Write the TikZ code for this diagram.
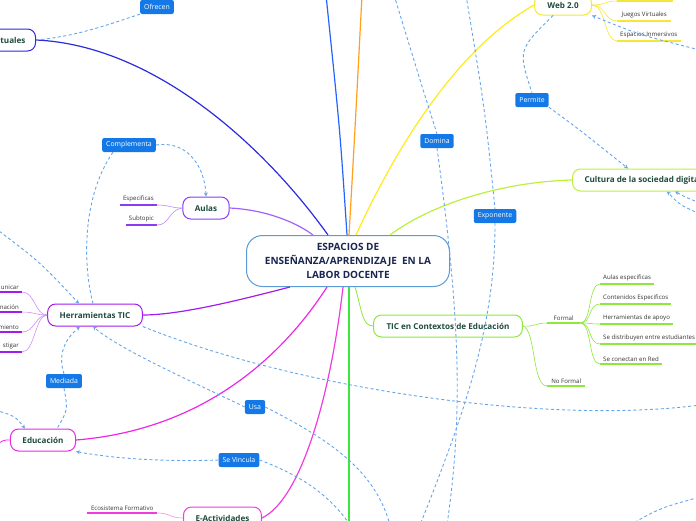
\documentclass[tikz,border=0pt]{standalone}
\usepackage{fontspec}
\setmainfont{Open Sans}
\usetikzlibrary{arrows.meta,positioning}

\definecolor{linkblue}{HTML}{64A5EB}
\definecolor{lblue}{HTML}{1479E6}
\definecolor{nodegreen}{HTML}{1E4B3C}
\definecolor{centertext}{HTML}{1A2550}
\definecolor{centerborder}{HTML}{5A9BD5}
\definecolor{virtblue}{HTML}{2B2BE0}
\definecolor{topblue}{HTML}{2563FF}
\definecolor{branchorange}{HTML}{FF9F1C}
\definecolor{webyellow}{HTML}{F5E63A}
\definecolor{lineyellow}{HTML}{FFEB1A}
\definecolor{cultgreen}{HTML}{BDF03C}
\definecolor{ticgreen}{HTML}{8CE83C}
\definecolor{stemgreen}{HTML}{3CE63C}
\definecolor{edumag}{HTML}{EC28E6}
\definecolor{eactmag}{HTML}{F03CDC}
\definecolor{herrpurple}{HTML}{A21DEB}
\definecolor{aulaspurple}{HTML}{8A3CF5}
\definecolor{subgray}{HTML}{333333}

\begin{document}
\begin{tikzpicture}[x=1pt, y=-1pt,
    central/.style={draw=centerborder, line width=1pt, rounded corners=16pt, fill=white,
      minimum width=203pt, minimum height=51pt, align=center, text=centertext,
      font=\fontsize{10}{14}\selectfont\bfseries},
    topic/.style={draw, line width=1pt, rounded corners=8pt, fill=white, text=nodegreen,
      minimum height=22pt, inner xsep=12pt, font=\fontsize{8.1}{9.5}\selectfont\bfseries},
    lbl/.style={fill=lblue, text=white, rounded corners=2pt, minimum height=14pt,
      inner xsep=4pt, font=\fontsize{6.9}{8}\selectfont},
    subitem/.style={text=subgray, inner xsep=3pt, inner ysep=2.5pt,
      font=\fontsize{6.1}{7}\selectfont},
    ul/.style={draw=#1, line width=1.6pt},
    br/.style={draw=#1, line width=0.6pt},
    stem/.style={draw=#1, line width=1.2pt},
    link/.style={draw=linkblue, dash pattern=on 3pt off 2.5pt, line width=0.9pt,
      -{Stealth[length=4pt,width=4pt]}}
  ]
  \useasboundingbox (0,0) rectangle (696,520);

  % central topic
  \node[central] (center) at (348,261)
    {ESPACIOS DE\\ENSEÑANZA/APRENDIZAJE\ \ EN LA\\LABOR DOCENTE};

  % main topics
  \node[topic, draw=virtblue, anchor=east, inner xsep=10pt, text width=44pt, align=right] (virt) at (36,40) {tuales};
  \node[topic, draw=webyellow, minimum width=57pt, minimum height=20pt, inner xsep=6pt] (web) at (563,5) {Web 2.0};
  \node[topic, draw=cultgreen, anchor=west] (cult) at (572,180) {Cultura de la sociedad digital};
  \node[topic, draw=ticgreen, anchor=west, inner xsep=13pt] (tic) at (373,326) {TIC en Contextos de Educación};
  \node[topic, draw=aulaspurple] (aulas) at (206,208) {Aulas};
  \node[topic, draw=herrpurple] (herr) at (95,315) {Herramientas TIC};
  \node[topic, draw=edumag] (edu) at (43,440) {Educación};
  \node[topic, draw=eactmag, anchor=west] (eact) at (183,518) {E-Actividades};

  % relation labels
  \node[lbl] (ofrecen) at (157,7) {Ofrecen};
  \node[lbl] (compl) at (129,145) {Complementa};
  \node[lbl] (domina) at (437,141) {Domina};
  \node[lbl] (permite) at (532,100) {Permite};
  \node[lbl] (expo) at (495,216) {Exponente};
  \node[lbl] (mediada) at (64,381) {Mediada};
  \node[lbl] (usa) at (255,407) {Usa};
  \node[lbl] (vinc) at (239,460) {Se Vincula};

  % branches from the centre
  \draw[stem=virtblue] ([xshift=-20pt]center.north) .. controls (260,140) and (150,45) .. (virt.east);
  \draw[stem=topblue] ([xshift=-1pt]center.north) .. controls (340,130) .. (326,-5);
  \draw[stem=branchorange] ([xshift=1pt]center.north) .. controls (355,130) .. (362,-5);
  \draw[stem=lineyellow] ([xshift=8pt]center.north) .. controls (395,150) and (455,50) .. (web.west);
  \draw[stem=cultgreen] ([xshift=42pt]center.north) .. controls (430,205) and (500,182) .. (cult.west);
  \draw[stem=aulaspurple!80] ([xshift=-35pt]center.north) .. controls (300,225) and (270,210) .. (aulas.east);
  \draw[stem=herrpurple] ([xshift=-58pt]center.south) .. controls (240,300) and (180,315) .. (herr.east);
  \draw[stem=edumag] ([xshift=-21pt]center.south) .. controls (280,360) and (200,430) .. (edu.east);
  \draw[stem=eactmag] ([xshift=-5pt]center.south) .. controls (330,400) and (300,500) .. (eact.east);
  \draw[stem=stemgreen] ([xshift=1pt]center.south) -- (349,525);
  \draw[stem=ticgreen, line width=0.8pt] ([xshift=7pt]center.south) .. controls (362,310) and (362,326) .. (tic.west);

  % Web 2.0 subtopics
  \coordinate (wtopa) at (617,1);
  \coordinate (wtopb) at (673,1);
  \draw[ul=webyellow] (wtopa) -- (wtopb);
  \draw[br=webyellow] (web.east) .. controls (605,5) and (605,1) .. (wtopa);
  \foreach \nm/\yy/\txt in {wjue/21/Juegos Virtuales, wesp/41/Espacios Inmersivos} {
    \node[subitem, anchor=south west, minimum width=54pt] (\nm) at (617,\yy) {\txt};
    \draw[ul=webyellow] (\nm.south west) -- (\nm.south east);
    \draw[br=webyellow] (web.east) .. controls (606,5) and (604,\yy) .. (\nm.south west);
  }

  % TIC en Contextos subtopics
  \node[subitem, anchor=south west, minimum width=33pt] (formal) at (547,323) {Formal};
  \node[subitem, anchor=south west, minimum width=38pt] (noformal) at (547,386) {No Formal};
  \draw[ul=ticgreen] (formal.south west) -- (formal.south east);
  \draw[ul=ticgreen] (noformal.south west) -- (noformal.south east);
  \draw[br=ticgreen] (tic.east) .. controls (535,327) and (535,323) .. (formal.south west);
  \draw[br=ticgreen] (tic.east) .. controls (536,330) and (532,386) .. (noformal.south west);
  \foreach \nm/\yy/\txt in {fa/284/Aulas especificas, fb/304/Contenidos Especificos,
      fc/324/Herramientas de apoyo, fd/344/Se distribuyen entre estudiantes,
      fe/364/Se conectan en Red} {
    \node[subitem, anchor=south west] (\nm) at (600,\yy) {\txt};
    \draw[ul=ticgreen] (\nm.south west) -- (\nm.south east);
    \draw[br=ticgreen] (formal.south east) .. controls (592,323) and (588,\yy) .. (\nm.south west);
  }

  % Aulas subtopics
  \node[subitem, anchor=south east] (aesp) at (157,205) {Especificas};
  \node[subitem, anchor=south east] (asub) at (157,225) {Subtopic};
  \foreach \nm in {aesp,asub} {
    \draw[ul=aulaspurple] (\nm.south west) -- (\nm.south east);
  }
  \draw[br=aulaspurple!60] (aulas.west) .. controls (170,208) and (170,205) .. (aesp.south east);
  \draw[br=aulaspurple!60] (aulas.west) .. controls (168,210) and (170,225) .. (asub.south east);

  % Herramientas TIC subtopics
  \foreach \nm/\yy/\txt in {ha/292/unicar, hb/312/nación, hc/332/miento, hd/352/stigar} {
    \node[subitem, anchor=south east] (\nm) at (22,\yy) {\txt};
    \draw[ul=herrpurple] (\nm.south west) -- (\nm.south east);
    \draw[br=herrpurple!50] (herr.west) .. controls (35,315) and (35,\yy) .. (\nm.south east);
  }

  % Educacion and E-Actividades subtopics
  \coordinate (eduleft) at (-5,446);
  \draw[stem=edumag, line width=0.8pt] (edu.west) .. controls (3,440) .. (eduleft);
  \node[subitem, anchor=south west, minimum width=70pt] (ecos) at (87,513) {Ecosistema Formativo};
  \draw[ul=eactmag] (ecos.south west) -- (ecos.south east);
  \draw[br=eactmag!60] (eact.west) .. controls (170,518) and (170,513) .. (ecos.south east);

  % relations
  \coordinate (domtop) at (394,-5);
  \coordinate (dombot) at (447,525);
  \coordinate (expotop) at (466,-5);
  \coordinate (expobot) at (420,525);
  \coordinate (herrright) at (700,405);
  \coordinate (topleft) at (-5,228);
  \coordinate (eduin) at (-5,410);
  \coordinate (usabot) at (390,525);
  \coordinate (vincbot) at (350,525);
  \coordinate (webright) at (700,50);
  \coordinate (cultra) at (700,203);
  \coordinate (cultrb) at (700,214);
  \coordinate (brighta) at (630,525);
  \coordinate (brightb) at (700,497);

  \draw[link, -] (virt.east) .. controls (80,36) and (115,22) .. (ofrecen.south west);
  \draw[link, -] (domtop) .. controls (420,80) .. (domina.north);
  \draw[link, -] (domina.south) .. controls (462,330) and (462,420) .. (dombot);
  \draw[link, -] (expotop) .. controls (485,110) .. (expo.north);
  \draw[link, -] (expo.south) .. controls (495,320) and (470,400) .. (expobot);
  \draw[link, -] (herr.south east) .. controls (300,390) and (550,425) .. (herrright);
  \draw[link] (topleft) .. controls (40,262) .. ([xshift=-16pt]herr.north);
  \draw[link, -] ([xshift=-16pt]compl.south) .. controls (80,200) and (84,270) .. ([xshift=-2pt]herr.north);
  \draw[link] (compl.east) .. controls (190,140) and (205,170) .. (aulas.north);
  \draw[link] (mediada.north) .. controls (56,350) and (70,335) .. ([xshift=-15pt]herr.south);
  \draw[link, -] (mediada.south) .. controls (68,410) .. ([xshift=14pt]edu.north);
  \draw[link] (eduin) .. controls (15,416) .. ([xshift=-18pt]edu.north);
  \draw[link] (usa.west) .. controls (200,385) and (120,350) .. ([xshift=-2pt]herr.south);
  \draw[link, -] (usa.east) .. controls (330,440) and (375,470) .. (usabot);
  \draw[link] (vinc.west) .. controls (160,462) and (110,458) .. (edu.south east);
  \draw[link, -] (vinc.east) .. controls (300,475) and (330,495) .. (vincbot);
  \draw[link, -] ([xshift=-10pt]web.south) .. controls (518,50) .. (permite.north);
  \draw[link] (permite.south east) .. controls (580,130) .. ([xshift=56pt]cult.north west);
  \draw[link] (webright) .. controls (640,35) .. (web.south east);
  \draw[link] (cultra) .. controls (685,197) .. ([xshift=103pt]cult.south west);
  \draw[link] (cultrb) .. controls (680,205) .. ([xshift=95pt]cult.south west);
  \draw[link, -] (brighta) .. controls (660,508) .. (brightb);
\end{tikzpicture}
\end{document}
